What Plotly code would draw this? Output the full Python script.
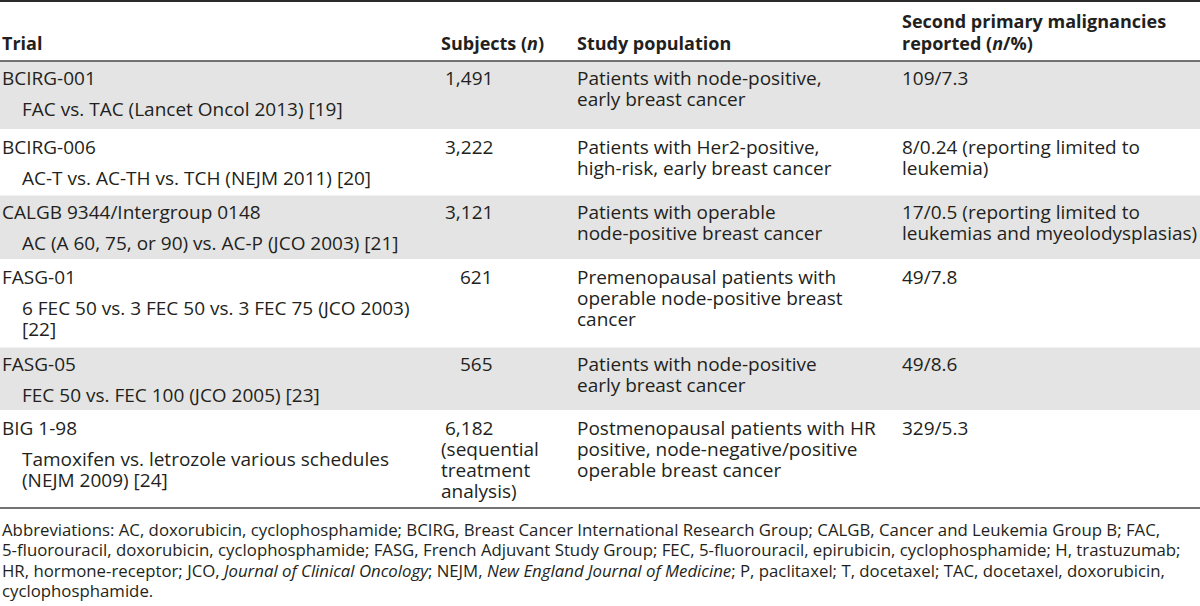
import plotly.graph_objects as go

# ---------------- data ----------------
headers = ["Trial", "Subjects (<i>n</i>)", "Study population",
           "Second primary malignancies", "reported (<i>n</i>/%)"]

trials = ["BCIRG-001", "BCIRG-006", "CALGB 9344/Intergroup 0148",
          "FASG-01", "FASG-05", "BIG 1-98"]

regimens = [
    ["FAC vs. TAC (Lancet Oncol 2013) [19]"],
    ["AC-T vs. AC-TH vs. TCH (NEJM 2011) [20]"],
    ["AC (A 60, 75, or 90) vs. AC-P (JCO 2003) [21]"],
    ["6 FEC 50 vs. 3 FEC 50 vs. 3 FEC 75 (JCO 2003)", "[22]"],
    ["FEC 50 vs. FEC 100 (JCO 2005) [23]"],
    ["Tamoxifen vs. letrozole various schedules", "(NEJM 2009) [24]"],
]

subjects = ["1,491", "3,222", "3,121", "621", "565", "6,182"]
subject_notes = [[], [], [], [], [], ["(sequential", "treatment", "analysis)"]]

populations = [
    ["Patients with node-positive,", "early breast cancer"],
    ["Patients with Her2-positive,", "high-risk, early breast cancer"],
    ["Patients with operable", "node-positive breast cancer"],
    ["Premenopausal patients with", "operable node-positive breast", "cancer"],
    ["Patients with node-positive", "early breast cancer"],
    ["Postmenopausal patients with HR", "positive, node-negative/positive", "operable breast cancer"],
]

malignancies = [
    ["109/7.3"],
    ["8/0.24 (reporting limited to", "leukemia)"],
    ["17/0.5 (reporting limited to", "leukemias and myeolodysplasias)"],
    ["49/7.8"],
    ["49/8.6"],
    ["329/5.3"],
]

footnote = [
    "Abbreviations: AC, doxorubicin, cyclophosphamide; BCIRG, Breast Cancer International Research Group; CALGB, Cancer and Leukemia Group B; FAC,",
    "5-fluorouracil, doxorubicin, cyclophosphamide; FASG, French Adjuvant Study Group; FEC, 5-fluorouracil, epirubicin, cyclophosphamide; H, trastuzumab;",
    "HR, hormone-receptor; JCO, <i>Journal of Clinical Oncology</i>; NEJM, <i>New England Journal of Medicine</i>; P, paclitaxel; T, docetaxel; TAC, docetaxel, doxorubicin,",
    "cyclophosphamide.",
]

# ---------------- layout constants ----------------
W, H = 1200, 606
FONT = "Open Sans"
FS = 19
FS_HEAD = 18
FS_FOOT = 16.8
TXT = "#231f20"
SHADE = "#e4e4e4"
row_bounds = [61, 130, 195, 260, 347, 411, 508]
LINE = 21
X_TRIAL, X_REG, X_SUBJ_L, X_SUBJ_R, X_POP, X_MAL = 0, 20, 439, 495, 575, 900

fig = go.Figure()
shapes = []
ann = []


def add_text(x, y, text, anchor="left", bold=False, size=FS):
    ann.append(dict(x=x, y=y, xref="x", yref="y", text=f"<b>{text}</b>" if bold else text,
                    showarrow=False, xanchor=anchor, yanchor="middle",
                    font=dict(family=FONT, size=size, color=TXT)))


# shaded rows
for i in range(len(trials)):
    top, bot = row_bounds[i], row_bounds[i + 1]
    if i % 2 == 0:
        shapes.append(dict(type="rect", xref="x", yref="y", x0=0, x1=W, y0=top + 0.5, y1=bot - 1,
                           fillcolor=SHADE, line=dict(width=0), layer="below"))

# rules
shapes.append(dict(type="line", xref="x", yref="y", x0=0, x1=W, y0=1, y1=1,
                   line=dict(color="#2a2a2a", width=2)))
shapes.append(dict(type="line", xref="x", yref="y", x0=0, x1=W, y0=row_bounds[0], y1=row_bounds[0],
                   line=dict(color="#444444", width=1.5)))
shapes.append(dict(type="line", xref="x", yref="y", x0=0, x1=W, y0=row_bounds[-1], y1=row_bounds[-1],
                   line=dict(color="#444444", width=1.5)))

# header
add_text(X_TRIAL, 43, headers[0], bold=True, size=FS_HEAD)
add_text(X_SUBJ_L, 43, headers[1], bold=True, size=FS_HEAD)
add_text(X_POP, 43, headers[2], bold=True, size=FS_HEAD)
add_text(X_MAL, 21, headers[3], bold=True, size=FS_HEAD)
add_text(X_MAL, 43, headers[4], bold=True, size=FS_HEAD)

# body
for i in range(len(trials)):
    top = row_bounds[i]
    y0 = top + 16.5
    add_text(X_TRIAL, y0, trials[i])
    for j, t in enumerate(regimens[i]):
        add_text(X_REG, y0 + 31.5 + j * LINE, t)
    add_text(X_SUBJ_R, y0, subjects[i], anchor="right")
    for j, t in enumerate(subject_notes[i]):
        add_text(X_SUBJ_L, y0 + (j + 1) * LINE, t)
    for j, t in enumerate(populations[i]):
        add_text(X_POP, y0 + j * LINE, t)
    for j, t in enumerate(malignancies[i]):
        add_text(X_MAL, y0 + j * LINE, t)

# footnote
for j, t in enumerate(footnote):
    add_text(0, 529 + j * 20.5, t, size=FS_FOOT)

fig.update_layout(
    width=W, height=H, margin=dict(l=0, r=0, t=0, b=0),
    paper_bgcolor="white", plot_bgcolor="white",
    xaxis=dict(range=[0, W], visible=False, fixedrange=True),
    yaxis=dict(range=[H, 0], visible=False, fixedrange=True),
    shapes=shapes, annotations=ann, showlegend=False,
)
fig.write_html("out.html", config={"displayModeBar": False},
               post_script="document.body.style.margin='0';document.body.style.overflow='hidden';")
